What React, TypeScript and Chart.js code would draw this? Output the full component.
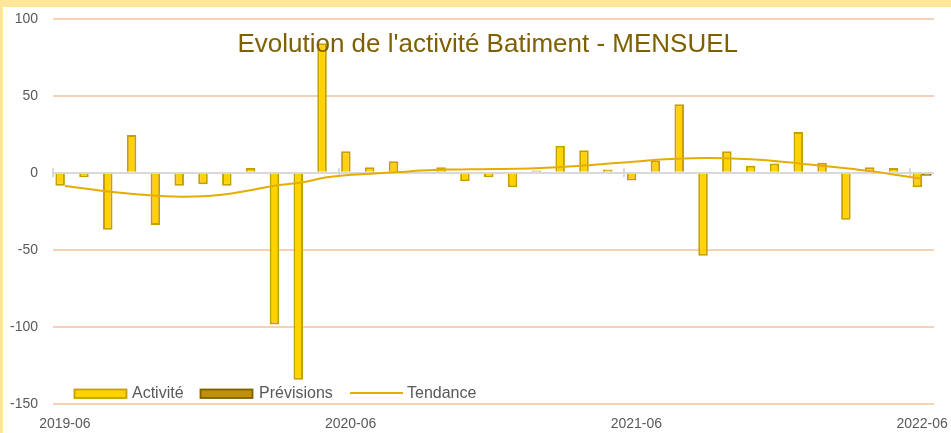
import React, { useEffect, useRef } from "react";
import { Chart, registerables } from "chart.js";

Chart.register(...registerables);

const months = [
  "2019-06", "2019-07", "2019-08", "2019-09", "2019-10", "2019-11", "2019-12",
  "2020-01", "2020-02", "2020-03", "2020-04", "2020-05", "2020-06", "2020-07",
  "2020-08", "2020-09", "2020-10", "2020-11", "2020-12", "2021-01", "2021-02",
  "2021-03", "2021-04", "2021-05", "2021-06", "2021-07", "2021-08", "2021-09",
  "2021-10", "2021-11", "2021-12", "2022-01", "2022-02", "2022-03", "2022-04",
  "2022-05", "2022-06",
];

const activite = [
  -8.5, -3, -37, 24.5, -34, -8.5, -7.5, -8.5, 3, -98.5, -134.5, 84, 14, 3.5,
  7.5, 0, 3.5, -5.5, -3, -9.5, 1.5, 17.5, 14.5, 2, -5, 8, 44.5, -54, 14, 4.5,
  6, 26.5, 6.5, -30.5, 3.5, 3, -9.5,
];

const previsions = [
  null, null, null, null, null, null, null, null, null, null, null, null, null,
  null, null, null, null, null, null, null, null, null, null, null, null, null,
  null, null, null, null, null, null, null, null, null, null, -2,
];

const tendance = [
  -8.6, -10.6, -12.6, -14, -15.2, -15.6, -15.1, -13.5, -10.8, -8.0, -6.2, -3.0,
  -1.4, -0.5, 0.4, 1.4, 2.0, 2.2, 2.4, 2.6, 3.1, 3.9, 4.9, 6.1, 7.3, 8.5, 9.2,
  9.5, 9.2, 8.5, 7.3, 5.7, 4.2, 2.5, 0.7, -1.7, -3.8,
];

const yTicks = [-150, -100, -50, 0, 50, 100];
const shownLabels = ["2019-06", "2020-06", "2021-06", "2022-06"];
const titleText = "Evolution de l'activité Batiment - MENSUEL";
const legendItems = ["Activité", "Prévisions", "Tendance"];

const FONT = "'Liberation Sans', Arial, sans-serif";
const BAR_FILL = "#FFD200";
const BAR_BORDER = "#C89F00";
const PREV_FILL = "#BF9000";
const PREV_BORDER = "#7F6000";
const TREND = "#E5AD00";
const TEXT = "#595959";

const overlayPlugin = {
  id: "overlay",
  beforeDatasetsDraw(chart: any) {
    const ctx = chart.ctx;
    const x = chart.scales.x;
    const y = chart.scales.y;
    const y0 = y.getPixelForValue(0);
    const half = (x.getPixelForValue(1) - x.getPixelForValue(0)) / 2;
    ctx.save();
    ctx.strokeStyle = "#D9D9D9";
    ctx.lineWidth = 2;
    months.forEach((m, i) => {
      if (shownLabels.includes(m)) {
        const px = Math.round(x.getPixelForValue(i) - half);
        ctx.beginPath();
        ctx.moveTo(px, y0 - 4.5);
        ctx.lineTo(px, y0 + 4.5);
        ctx.stroke();
      }
    });
    ctx.restore();
  },
  afterDraw(chart: any) {
    const ctx = chart.ctx;
    ctx.save();
    ctx.fillStyle = "#7F6000";
    ctx.font = `26px ${FONT}`;
    ctx.textAlign = "center";
    ctx.textBaseline = "alphabetic";
    ctx.fillText(titleText, 484.7, 44.7);
    ctx.font = `16px ${FONT}`;
    ctx.textAlign = "left";
    ctx.textBaseline = "middle";
    const ty = 387;
    ctx.fillStyle = BAR_FILL;
    ctx.strokeStyle = BAR_BORDER;
    ctx.lineWidth = 1.8;
    ctx.fillRect(71.5, 382.5, 52, 8.5);
    ctx.strokeRect(71.5, 382.5, 52, 8.5);
    ctx.fillStyle = TEXT;
    ctx.fillText(legendItems[0], 129, ty);
    ctx.fillStyle = PREV_FILL;
    ctx.strokeStyle = PREV_BORDER;
    ctx.fillRect(197.5, 382.5, 52, 8.5);
    ctx.strokeRect(197.5, 382.5, 52, 8.5);
    ctx.fillStyle = TEXT;
    ctx.fillText(legendItems[1], 256, ty);
    ctx.strokeStyle = TREND;
    ctx.lineWidth = 2;
    ctx.beginPath();
    ctx.moveTo(347, 386);
    ctx.lineTo(400, 386);
    ctx.stroke();
    ctx.fillStyle = TEXT;
    ctx.fillText(legendItems[2], 404, ty);
    ctx.restore();
  },
};

export default function App() {
  const ref = useRef<HTMLCanvasElement | null>(null);

  useEffect(() => {
    document.body.style.margin = "0";
    const canvas = ref.current;
    if (!canvas) return;
    const chart = new Chart(canvas, {
      type: "bar",
      data: {
        labels: months,
        datasets: [
          {
            type: "line",
            label: "Tendance",
            data: tendance,
            borderColor: TREND,
            borderWidth: 2,
            pointRadius: 0,
            tension: 0.4,
            fill: false,
            order: 0,
          } as any,
          {
            type: "bar",
            label: "Activité",
            data: activite,
            backgroundColor: BAR_FILL,
            borderColor: BAR_BORDER,
            borderWidth: 2,
            categoryPercentage: 0.8,
            barPercentage: 1,
            order: 1,
          },
          {
            type: "bar",
            label: "Prévisions",
            data: previsions,
            backgroundColor: PREV_FILL,
            borderColor: PREV_BORDER,
            borderWidth: 2,
            categoryPercentage: 0.8,
            barPercentage: 1,
            order: 2,
          },
        ],
      },
      options: {
        responsive: false,
        animation: false,
        maintainAspectRatio: false,
        layout: { padding: { left: 0, right: 17, top: 11.7, bottom: 0 } },
        plugins: {
          legend: { display: false },
          title: { display: false },
          tooltip: { enabled: false },
        },
        scales: {
          x: {
            offset: true,
            grid: { display: false, drawTicks: false },
            border: { display: false },
            ticks: {
              autoSkip: false,
              maxRotation: 0,
              minRotation: 0,
              padding: 12,
              color: TEXT,
              font: { family: FONT, size: 14 },
              callback: (_v: any, i: number) =>
                shownLabels.includes(months[i]) ? months[i] : "",
            },
            afterFit: (s: any) => {
              s.height = 29.3;
              s.paddingLeft = 0;
              s.paddingRight = 0;
            },
          },
          y: {
            min: -150,
            max: 100,
            afterBuildTicks: (s: any) => {
              s.ticks = yTicks.map((v) => ({ value: v }));
            },
            grid: {
              drawTicks: false,
              lineWidth: 2,
              color: (c: any) => (c.tick && c.tick.value === 0 ? "#D9D9D9" : "#F8D0B8"),
            },
            border: { display: false },
            ticks: {
              padding: 15,
              color: TEXT,
              font: { family: FONT, size: 14 },
            },
            afterFit: (s: any) => {
              s.width = 50;
              s.paddingTop = 0;
              s.paddingBottom = 0;
            },
          },
        },
      },
      plugins: [overlayPlugin],
    });
    return () => chart.destroy();
  }, []);

  return (
    <div
      style={{
        position: "relative",
        width: 951,
        height: 433,
        background: "#FFE699",
        overflow: "hidden",
      }}
    >
      <div
        style={{
          position: "absolute",
          left: 3,
          top: 7,
          width: 948,
          height: 426,
          background: "#FFFFFF",
        }}
      >
        <canvas ref={ref} width={948} height={426} style={{ width: 948, height: 426, display: "block" }} />
      </div>
    </div>
  );
}
